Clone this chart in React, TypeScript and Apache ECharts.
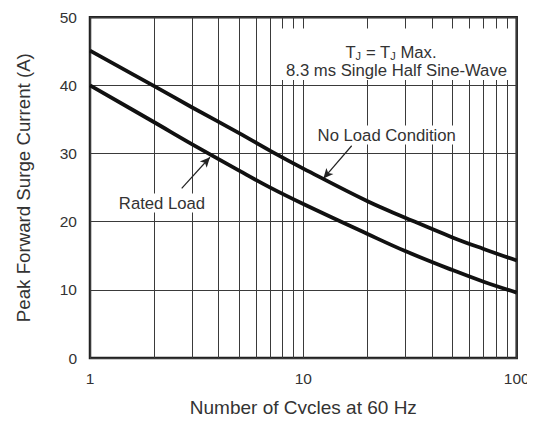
import React, { useEffect, useRef } from "react";
import * as echarts from "echarts";

const cycles = [1, 2, 3, 5, 7, 10, 20, 30, 50, 70, 100];
const noLoad = [45.1, 39.9, 36.8, 33.0, 30.4, 27.8, 23.0, 20.6, 17.7, 16.0, 14.3];
const ratedLoad = [40.0, 34.6, 31.4, 27.5, 25.0, 22.6, 18.2, 15.7, 12.9, 11.2, 9.6];
const minorGrid = [2, 3, 4, 5, 6, 7, 8, 9, 20, 30, 40, 50, 60, 70, 80, 90];
const noLoadArrow = [[16.85, 31.15], [12.41, 26.33]];
const ratedArrow = [[2.69, 24.89], [3.65, 29.46]];

const FONT = "'Liberation Sans', Arial, Helvetica, sans-serif";
const TXT = "#333";

export default function App() {
  const ref = useRef<HTMLDivElement>(null);
  useEffect(() => {
    if (!ref.current) return;
    const chart = echarts.init(ref.current, null, { renderer: "svg" });
    const arrowLine = (pts: number[][]) => ({
      silent: true,
      symbol: ["none", "arrow"],
      symbolSize: [7, 10],
      label: { show: false },
      lineStyle: { color: "#222", width: 1.2, type: "solid" },
      data: [[{ coord: pts[0] }, { coord: pts[1] }]],
    });
    chart.setOption({
      animation: false,
      textStyle: { fontFamily: FONT },
      grid: {
        left: 90,
        right: 18.3,
        top: 17.3,
        bottom: 57.7,
        show: true,
        borderColor: "#222",
        borderWidth: 2.5,
        backgroundColor: "transparent",
      },
      xAxis: {
        type: "log",
        logBase: 10,
        min: 1,
        max: 100,
        name: "Number of Cycles at 60 Hz",
        nameLocation: "middle",
        nameGap: 40,
        nameTextStyle: { fontSize: 19, color: TXT, fontFamily: FONT },
        axisLine: { show: false },
        axisTick: { show: false },
        axisLabel: { fontSize: 15.5, color: TXT, margin: 12.5, fontFamily: FONT },
        splitLine: { show: true, lineStyle: { color: "#3a3a3a", width: 1 } },
      },
      yAxis: {
        type: "value",
        min: 0,
        max: 50,
        interval: 10,
        name: "Peak Forward Surge Current (A)",
        nameLocation: "middle",
        nameGap: 57,
        nameTextStyle: { fontSize: 18.7, color: TXT, fontFamily: FONT },
        axisLine: { show: false },
        axisTick: { show: false },
        axisLabel: { fontSize: 15.5, color: TXT, margin: 13, fontFamily: FONT },
        splitLine: { show: true, lineStyle: { color: "#3a3a3a", width: 1 } },
      },
      series: [
        {
          type: "line",
          data: [],
          silent: true,
          markLine: {
            silent: true,
            symbol: ["none", "none"],
            label: { show: false },
            lineStyle: { color: "#3a3a3a", width: 1, type: "solid" },
            data: minorGrid.map((v) => ({ xAxis: v })),
          },
        },
        {
          type: "line",
          name: "No Load Condition",
          data: cycles.map((c, i) => [c, noLoad[i]]),
          smooth: 0.4,
          showSymbol: false,
          lineStyle: { color: "#111", width: 3.8 },
          z: 5,
          markLine: arrowLine(noLoadArrow),
        },
        {
          type: "line",
          name: "Rated Load",
          data: cycles.map((c, i) => [c, ratedLoad[i]]),
          smooth: 0.4,
          showSymbol: false,
          lineStyle: { color: "#111", width: 3.8 },
          z: 5,
          markLine: arrowLine(ratedArrow),
        },
      ],
      graphic: [
        {
          type: "rect",
          z: 100,
          shape: { x: 278, y: 28.5, width: 236, height: 51.5 },
          style: { fill: "#fff" },
          silent: true,
        },
        {
          type: "text",
          z: 101,
          x: 391,
          y: 51,
          style: {
            text: "{m|T}{s|J}{m| = T}{s|J}{m| Max.}",
            align: "center",
            verticalAlign: "middle",
            rich: {
              m: { fontSize: 16.7, fill: TXT, fontFamily: FONT, lineHeight: 20, verticalAlign: "bottom" },
              s: { fontSize: 11, fill: TXT, fontFamily: FONT, lineHeight: 12, verticalAlign: "bottom" },
            },
          },
        },
        {
          type: "text",
          z: 101,
          x: 396.5,
          y: 70.5,
          style: {
            text: "8.3 ms Single Half Sine-Wave",
            fontSize: 16.7,
            fill: TXT,
            fontFamily: FONT,
            align: "center",
            verticalAlign: "middle",
          },
        },
        {
          type: "text",
          z: 101,
          x: 386.7,
          y: 135,
          style: {
            text: "No Load Condition",
            fontSize: 16.7,
            fill: TXT,
            fontFamily: FONT,
            align: "center",
            verticalAlign: "middle",
            backgroundColor: "#fff",
            padding: [1, 2],
          },
        },
        {
          type: "text",
          z: 101,
          x: 162,
          y: 203,
          style: {
            text: "Rated Load",
            fontSize: 16.7,
            fill: TXT,
            fontFamily: FONT,
            align: "center",
            verticalAlign: "middle",
            backgroundColor: "#fff",
            padding: [1, 2],
          },
        },
      ],
    });
    return () => chart.dispose();
  }, []);
  return <div ref={ref} style={{ width: 535, height: 422, margin: -8 }} />;
}
